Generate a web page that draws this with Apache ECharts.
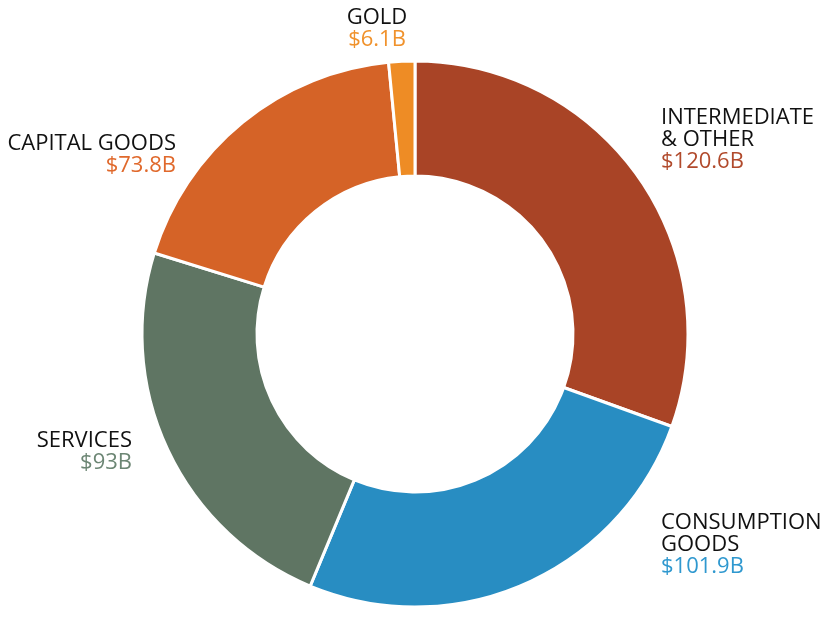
<!DOCTYPE html>
<html>
<head>
<meta charset="utf-8">
<script src="https://cdn.jsdelivr.net/npm/echarts@6/dist/echarts.min.js"></script>
<style>
  html, body { margin: 0; padding: 0; background: #ffffff; }
  #chart { width: 830px; height: 620px; }
</style>
</head>
<body>
<div id="chart"></div>
<script>
// Data
const categories = ['INTERMEDIATE\n& OTHER', 'CONSUMPTION\nGOODS', 'SERVICES', 'CAPITAL GOODS', 'GOLD'];
const values = [120.6, 101.9, 93, 73.8, 6.1];
const valueLabels = ['$120.6B', '$101.9B', '$93B', '$73.8B', '$6.1B'];

// Styles
const sliceColors = ['#A94426', '#288DC2', '#5F7563', '#D56327', '#EE8C25'];
const valueColors = ['#B14A2C', '#2F98CF', '#6C8674', '#E0692C', '#F0922C'];
const labelPos = [
  { x: 661, y: 107, align: 'left' },
  { x: 661, y: 512, align: 'left' },
  { x: 132, y: 430, align: 'right' },
  { x: 176, y: 133, align: 'right' },
  { x: 377, y: 7, align: 'center' }
];

const rich = { n: { color: '#111111', fontSize: 22, lineHeight: 22, fontFamily: 'Open Sans' } };
valueColors.forEach((c, i) => {
  rich['v' + i] = { color: c, fontSize: 22, lineHeight: 22, fontFamily: 'Open Sans' };
});

const data = categories.map((name, i) => ({
  name: name,
  value: values[i],
  itemStyle: { color: sliceColors[i] },
  label: {
    formatter: name.split('\n').map(s => '{n|' + s + '}').join('\n') + '\n{v' + i + '|' + valueLabels[i] + '}',
    align: labelPos[i].align
  }
}));

const chart = echarts.init(document.getElementById('chart'), null, { renderer: 'canvas' });
chart.setOption({
  backgroundColor: '#ffffff',
  animation: false,
  series: [{
    type: 'pie',
    center: [415, 334],
    radius: [158, 273],
    startAngle: 90,
    clockwise: true,
    avoidLabelOverlap: false,
    itemStyle: { borderColor: '#ffffff', borderWidth: 3 },
    label: {
      show: true,
      position: 'outside',
      fontFamily: 'Open Sans',
      fontSize: 22,
      lineHeight: 22,
      rich: rich
    },
    labelLine: { show: false },
    emphasis: { disabled: true },
    labelLayout: function (params) {
      const p = labelPos[params.dataIndex];
      return { x: p.x, y: p.y, align: p.align, verticalAlign: 'top' };
    },
    data: data
  }]
});
</script>
</body>
</html>
